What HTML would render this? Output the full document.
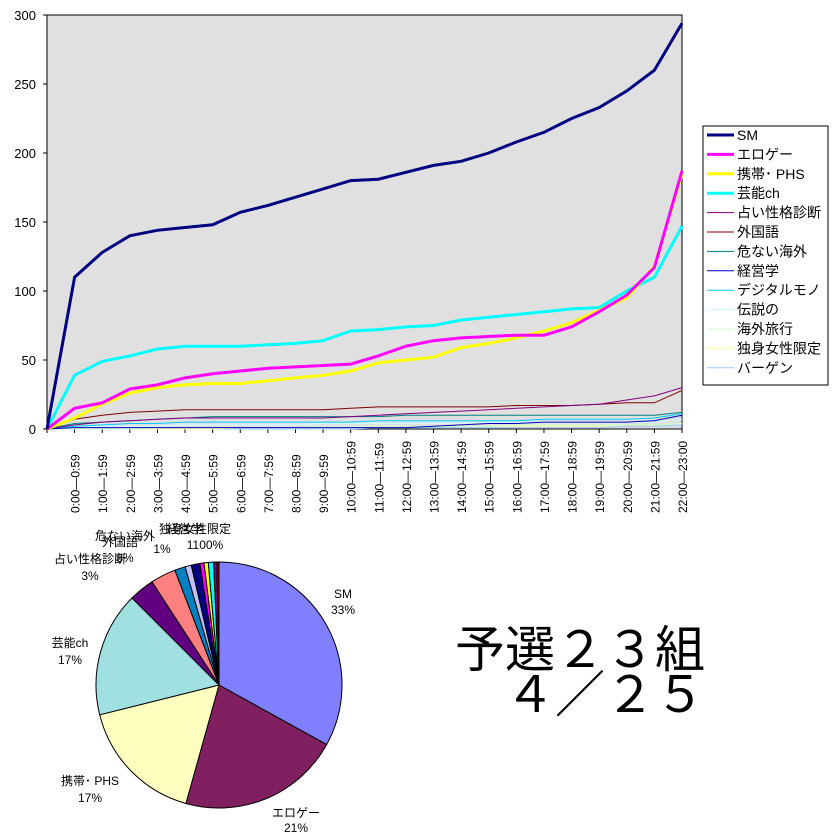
<!DOCTYPE html>
<html><head><meta charset="utf-8"><style>
html,body{margin:0;padding:0;background:#fff;}
svg{display:block;font-family:"Liberation Sans","Noto Sans CJK JP",sans-serif;}
</style></head><body>
<svg id="s" width="840" height="840" viewBox="0 0 840 840" xmlns="http://www.w3.org/2000/svg">
<rect x="47" y="15" width="635" height="414" fill="#e0e0e0" stroke="#000" stroke-width="1"/>
<g id="g"></g>
</svg>
<script>
var NS="http://www.w3.org/2000/svg",g=document.getElementById('g');
function el(t,a,txt){var e=document.createElementNS(NS,t);for(var k in a)e.setAttribute(k,a[k]);if(txt!=null)e.textContent=txt;g.appendChild(e);return e;}
var X0=47,DX=635/23,Y0=429,SY=414/300;
// y ticks
for(var v=0;v<=300;v+=50){var y=Y0-v*SY;el('line',{x1:43,y1:y,x2:47,y2:y,stroke:'#000'});el('text',{x:36,y:y+5,'text-anchor':'end','font-size':13},v);}
for(var i=0;i<=23;i++){var x=X0+i*DX;el('line',{x1:x,y1:429,x2:x,y2:433,stroke:'#000'});}
var series=[
['#000080',3,[0,110,128,140,144,146,148,157,162,168,174,180,181,186,191,194,200,208,215,225,233,245,260,294]],
['#ff00ff',3,[0,15,19,29,32,37,40,42,44,45,46,47,53,60,64,66,67,68,68,74,85,97,117,187]],
['#ffff00',3,[0,8,18,26,30,32,33,33,35,37,39,42,48,50,52,59,62,66,71,77,86,95,118,185]],
['#00ffff',3,[0,39,49,53,58,60,60,60,61,62,64,71,72,74,75,79,81,83,85,87,88,100,110,147]],
['#800080',1,[0,3,5,6,7,8,8,8,8,8,8,9,10,11,12,13,14,15,16,17,18,21,24,30]],
['#800000',1,[0,7,10,12,13,14,14,14,14,14,14,15,16,16,16,16,16,17,17,17,18,19,19,28]],
['#008080',1,[0,4,5,6,7,8,9,9,9,9,9,9,9,10,10,10,10,10,10,10,10,10,10,12]],
['#0000c0',1,[0,1,1,1,1,1,1,1,1,1,1,1,1,1,2,3,4,4,5,5,5,5,6,10]],
['#00ccff',1,[0,2,3,4,4,5,5,5,5,5,5,5,6,6,6,6,6,6,7,7,7,7,8,11]],
['#ccffff',1,[0,1,2,2,2,3,3,3,3,3,4,4,4,4,4,4,5,5,5,5,5,5,5,7]],
['#ccffcc',1,[0,0,0,0,1,1,1,1,1,1,2,2,2,2,2,2,2,3,3,3,3,3,3,4]],
['#ffff99',1,[0,0,0,0,0,0,0,1,1,1,1,1,1,1,2,2,2,2,2,2,2,3,3,4]],
['#99ccff',1,[0,0,0,0,0,0,0,0,0,0,0,0,1,1,1,1,1,1,1,1,1,2,2,3]]];
for(var s=series.length-1;s>=0;s--){var d=series[s],p=d[2].map(function(v,i){return (X0+i*DX).toFixed(1)+','+(Y0-v*SY).toFixed(1);}).join(' ');
el('polyline',{points:p,fill:'none',stroke:d[0],'stroke-width':d[1]});}
// x labels
var labs=[];for(var i=0;i<22;i++)labs.push(i+':00\u2014'+i+':59');labs.push('22:00\u201423:00');
for(var i=0;i<23;i++){var x=X0+(i+1)*DX+5;el('text',{x:0,y:0,transform:'translate('+x+',513) rotate(-90)','font-size':12},labs[i]);}
// legend
el('rect',{x:703,y:126,width:125,height:259,fill:'#fff',stroke:'#000'});
var names=['SM','エロゲー','携帯･ PHS','芸能ch','占い性格診断','外国語','危ない海外','経営学','デジタルモノ','伝説の','海外旅行','独身女性限定','バーゲン'];
for(var i=0;i<13;i++){var y=135+i*19.4;el('line',{x1:707,y1:y,x2:734,y2:y,stroke:series[i][0],'stroke-width':series[i][1]});el('text',{x:737,y:y+5,'font-size':14},names[i]);}
// pie
var cx=219,cy=685,r=123;
var sl=[[0,119,'#8080ff'],[119,195.6,'#802060'],[195.6,256,'#ffffc0'],[256,315,'#a0e0e0'],[315,327,'#600080'],[327,339,'#ff8080'],[339,344,'#0080c0'],[344,347,'#c0c0ff'],[347,351,'#000080'],[351,353,'#ff00ff'],[353,355,'#ffff00'],[355,357.5,'#00ffff'],[357.5,359,'#800080'],[359,360,'#800000']];
function pt(a){a=a*Math.PI/180;return [cx+r*Math.sin(a),cy-r*Math.cos(a)];}
sl.forEach(function(q){var a=pt(q[0]),b=pt(q[1]);el('path',{d:'M'+cx+','+cy+' L'+a[0].toFixed(1)+','+a[1].toFixed(1)+' A'+r+','+r+' 0 '+((q[1]-q[0])>180?1:0)+' 1 '+b[0].toFixed(1)+','+b[1].toFixed(1)+' Z',fill:q[2],stroke:'#000','stroke-width':1});});
function t(x,y,s,sz,anc){el('text',{x:x,y:y,'font-size':sz||12,'text-anchor':anc||'middle'},s);}
t(343,598,'SM');t(343,614,'33%');
t(296,817,'エロゲー');t(296,832,'21%');
t(90,785,'携帯･ PHS');t(90,802,'17%');
t(70,647,'芸能ch');t(70,664,'17%');
t(90,563,'占い性格診断');t(90,580,'3%');
t(120,546,'外国語');t(125,562,'3%');
t(125,540,'危ない海外');t(162,553,'1%');
t(185,533,'経営学');t(195,533,'独身女性限定');t(205,549,'1100%');
el('text',{x:455,y:667,'font-size':50},'予選２３組');
el('text',{x:505,y:712,'font-size':50},'４／２５');
</script>
</body></html>
